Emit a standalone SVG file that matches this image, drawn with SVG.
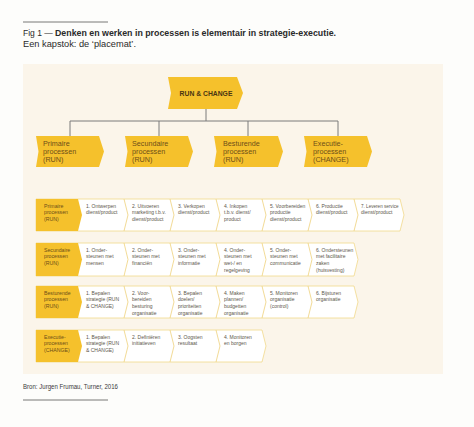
<svg xmlns="http://www.w3.org/2000/svg" width="474" height="427" viewBox="0 0 474 427">
<style>
.bg{fill:#fdfdfb}
.panel{fill:#fbf5ea}
.rule{stroke:#555;stroke-width:0.8;fill:none}
.yel{fill:#f5c12c}
.rowbox{fill:#ffffff;stroke:#f1d98c;stroke-width:0.8}
.sep{fill:none;stroke:#efd27c;stroke-width:0.8}
.conn{fill:none;stroke:#7a7a7a;stroke-width:1}
.t{font-family:"Liberation Sans",Arial,sans-serif}
.title{font-size:8.5px;fill:#2a2a2a}
.l2{font-size:7.2px;fill:#6e4f18}
.rc{font-size:6.8px;font-weight:bold;fill:#4a3512}
.lab{font-size:5.2px;fill:#6e4f18}
.st{font-size:5px;fill:#5e584c}
.src{font-size:6.5px;fill:#3a3a3a}
</style>
<rect class="bg" x="0" y="0" width="474" height="427"/>
<line class="rule" x1="23" y1="22" x2="108" y2="22"/>
<text class="t title" x="23" y="36">Fig 1 —</text>
<text class="t title" x="55" y="36" font-weight="bold" textLength="281" lengthAdjust="spacingAndGlyphs">Denken en werken in processen is elementair in strategie-executie.</text>
<text class="t title" x="23" y="47" textLength="113" lengthAdjust="spacingAndGlyphs">Een kapstok: de ‘placemat’.</text>
<rect class="panel" x="23" y="64" width="420" height="310"/>

<g id="connectors">
<path class="conn" d="M206 109 V121 M70 121 H338 M70 121 V136 M159 121 V136 M248 121 V136 M338 121 V136"/>
</g>

<g id="run-change">
<path class="yel" d="M168 77 L237 77 L243 93 L237 109 L168 109 L171 93 Z"/>
<text class="t rc" x="206" y="95.5" text-anchor="middle">RUN &amp; CHANGE</text>
</g>

<g id="primaire">
<path class="yel" d="M36 136 L99 136 L104 151.5 L99 167 L36 167 L38.5 151.5 Z"/>
<text class="t l2" x="43"><tspan x="43" y="146">Primaire</tspan><tspan x="43" y="154">processen</tspan><tspan x="43" y="162">(RUN)</tspan></text>
</g>
<g id="secundaire">
<path class="yel" d="M125 136 L188 136 L193 151.5 L188 167 L125 167 L127.5 151.5 Z"/>
<text class="t l2"><tspan x="132" y="146">Secundaire</tspan><tspan x="132" y="154">processen</tspan><tspan x="132" y="162">(RUN)</tspan></text>
</g>
<g id="besturende">
<path class="yel" d="M214 136 L278 136 L283 151.5 L278 167 L214 167 L216.5 151.5 Z"/>
<text class="t l2"><tspan x="223" y="146">Besturende</tspan><tspan x="223" y="154">processen</tspan><tspan x="223" y="162">(RUN)</tspan></text>
</g>
<g id="executie">
<path class="yel" d="M304 136 L367 136 L372 151.5 L367 167 L304 167 L306.5 151.5 Z"/>
<text class="t l2"><tspan x="313" y="146">Executie-</tspan><tspan x="313" y="154">processen</tspan><tspan x="313" y="162">(CHANGE)</tspan></text>
</g>

<g id="row-primaire">
<path class="rowbox" d="M36 199 L400 199 L404 215 L400 231 L36 231 Z"/>
<path class="yel" d="M36 199 L78 199 L82 215 L78 231 L36 231 Z"/>
<path class="sep" d="M124 199 L128 215 L124 231 M170 199 L174 215 L170 231 M216 199 L220 215 L216 231 M262 199 L266 215 L262 231 M308 199 L312 215 L308 231 M354 199 L358 215 L354 231"/>
<text class="t lab"><tspan x="44" y="207.5">Primaire</tspan><tspan x="44" y="214.3">processen</tspan><tspan x="44" y="221.1">(RUN)</tspan></text>
<text class="t st"><tspan x="86" y="207.5">1. Ontwerpen</tspan><tspan x="86" y="214.3">dienst/product</tspan></text>
<text class="t st"><tspan x="132" y="207.5">2. Uitvoeren</tspan><tspan x="132" y="214.3">marketing t.b.v.</tspan><tspan x="132" y="221.1">dienst/product</tspan></text>
<text class="t st"><tspan x="178" y="207.5">3. Verkopen</tspan><tspan x="178" y="214.3">dienst/product</tspan></text>
<text class="t st"><tspan x="224" y="207.5">4. Inkopen</tspan><tspan x="224" y="214.3">t.b.v. dienst/</tspan><tspan x="224" y="221.1">product</tspan></text>
<text class="t st"><tspan x="270" y="207.5">5. Voorbereiden</tspan><tspan x="270" y="214.3">productie</tspan><tspan x="270" y="221.1">dienst/product</tspan></text>
<text class="t st"><tspan x="316" y="207.5">6. Productie</tspan><tspan x="316" y="214.3">dienst/product</tspan></text>
<text class="t st" x="361" y="207.5" textLength="37.5" lengthAdjust="spacingAndGlyphs">7. Leveren service</text>
<text class="t st" x="361" y="214.3">dienst/product</text>
</g>

<g id="row-secundaire">
<path class="rowbox" d="M36 243 L354 243 L358 259.5 L354 276 L36 276 Z"/>
<path class="yel" d="M36 243 L78 243 L82 259.5 L78 276 L36 276 Z"/>
<path class="sep" d="M124 243 L128 259.5 L124 276 M170 243 L174 259.5 L170 276 M216 243 L220 259.5 L216 276 M262 243 L266 259.5 L262 276 M308 243 L312 259.5 L308 276"/>
<text class="t lab"><tspan x="44" y="251.5">Secundaire</tspan><tspan x="44" y="258.3">processen</tspan><tspan x="44" y="265.1">(RUN)</tspan></text>
<text class="t st"><tspan x="86" y="251.5">1. Onder-</tspan><tspan x="86" y="258.3">steunen met</tspan><tspan x="86" y="265.1">mensen</tspan></text>
<text class="t st"><tspan x="132" y="251.5">2. Onder-</tspan><tspan x="132" y="258.3">steunen met</tspan><tspan x="132" y="265.1">financiën</tspan></text>
<text class="t st"><tspan x="178" y="251.5">3. Onder-</tspan><tspan x="178" y="258.3">steunen met</tspan><tspan x="178" y="265.1">informatie</tspan></text>
<text class="t st"><tspan x="224" y="251.5">4. Onder-</tspan><tspan x="224" y="258.3">steunen met</tspan><tspan x="224" y="265.1">wet-/ en</tspan><tspan x="224" y="271.9">regelgeving</tspan></text>
<text class="t st"><tspan x="270" y="251.5">5. Onder-</tspan><tspan x="270" y="258.3">steunen met</tspan><tspan x="270" y="265.1">communicatie</tspan></text>
<text class="t st"><tspan x="316" y="251.5">6. Ondersteunen</tspan><tspan x="316" y="258.3">met facilitaire</tspan><tspan x="316" y="265.1">zaken</tspan><tspan x="316" y="271.9">(huisvesting)</tspan></text>
</g>

<g id="row-besturende">
<path class="rowbox" d="M36 286 L354 286 L358 302 L354 318 L36 318 Z"/>
<path class="yel" d="M36 286 L78 286 L82 302 L78 318 L36 318 Z"/>
<path class="sep" d="M124 286 L128 302 L124 318 M170 286 L174 302 L170 318 M216 286 L220 302 L216 318 M262 286 L266 302 L262 318 M308 286 L312 302 L308 318"/>
<text class="t lab"><tspan x="44" y="294.5">Besturende</tspan><tspan x="44" y="301.3">processen</tspan><tspan x="44" y="308.1">(RUN)</tspan></text>
<text class="t st"><tspan x="86" y="294.5">1. Bepalen</tspan><tspan x="86" y="301.3">strategie (RUN</tspan><tspan x="86" y="308.1">&amp; CHANGE)</tspan></text>
<text class="t st"><tspan x="132" y="294.5">2. Voor-</tspan><tspan x="132" y="301.3">bereiden</tspan><tspan x="132" y="308.1">besturing</tspan><tspan x="132" y="314.9">organisatie</tspan></text>
<text class="t st"><tspan x="178" y="294.5">3. Bepalen</tspan><tspan x="178" y="301.3">doelen/</tspan><tspan x="178" y="308.1">prioriteiten</tspan><tspan x="178" y="314.9">organisatie</tspan></text>
<text class="t st"><tspan x="224" y="294.5">4. Maken</tspan><tspan x="224" y="301.3">plannen/</tspan><tspan x="224" y="308.1">budgetten</tspan><tspan x="224" y="314.9">organisatie</tspan></text>
<text class="t st"><tspan x="270" y="294.5">5. Monitoren</tspan><tspan x="270" y="301.3">organisatie</tspan><tspan x="270" y="308.1">(control)</tspan></text>
<text class="t st"><tspan x="316" y="294.5">6. Bijsturen</tspan><tspan x="316" y="301.3">organisatie</tspan></text>
</g>

<g id="row-executie">
<path class="rowbox" d="M36 330 L262 330 L266 346 L262 362 L36 362 Z"/>
<path class="yel" d="M36 330 L78 330 L82 346 L78 362 L36 362 Z"/>
<path class="sep" d="M124 330 L128 346 L124 362 M170 330 L174 346 L170 362 M216 330 L220 346 L216 362"/>
<text class="t lab"><tspan x="44" y="338.5">Executie-</tspan><tspan x="44" y="345.3">processen</tspan><tspan x="44" y="352.1">(CHANGE)</tspan></text>
<text class="t st"><tspan x="86" y="338.5">1. Bepalen</tspan><tspan x="86" y="345.3">strategie (RUN</tspan><tspan x="86" y="352.1">&amp; CHANGE)</tspan></text>
<text class="t st"><tspan x="132" y="338.5">2. Definiëren</tspan><tspan x="132" y="345.3">initiatieven</tspan></text>
<text class="t st"><tspan x="178" y="338.5">3. Oogsten</tspan><tspan x="178" y="345.3">resultaat</tspan></text>
<text class="t st"><tspan x="224" y="338.5">4. Monitoren</tspan><tspan x="224" y="345.3">en borgen</tspan></text>
</g>

<text class="t src" x="23" y="389" textLength="95" lengthAdjust="spacingAndGlyphs">Bron: Jurgen Frumau, Turner, 2016</text>
<line class="rule" x1="23" y1="400" x2="108" y2="400"/>
</svg>
